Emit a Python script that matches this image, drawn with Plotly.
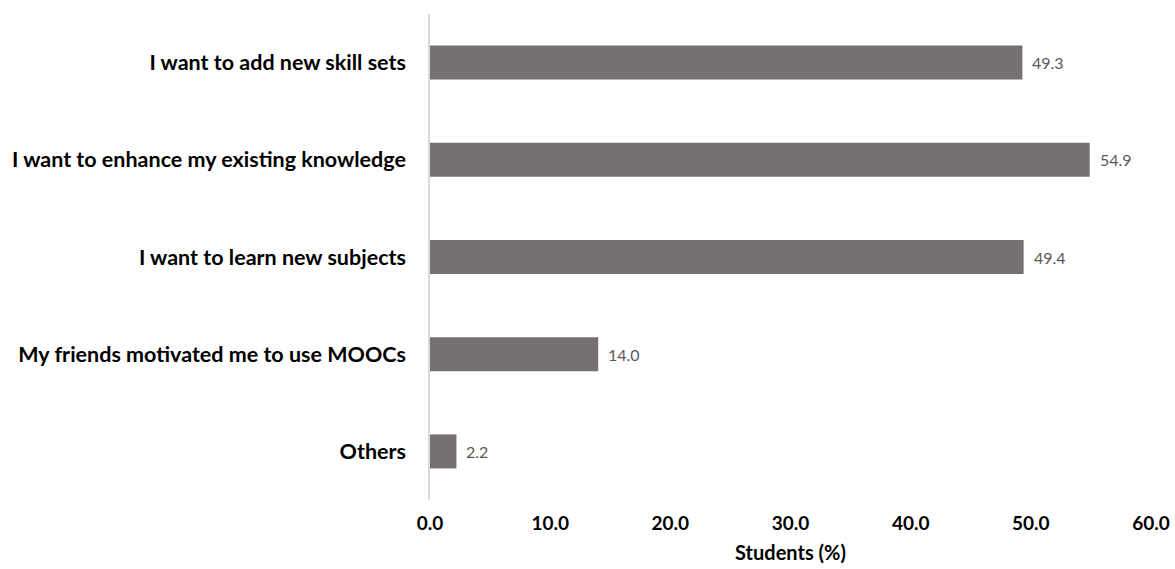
import plotly.graph_objects as go

# Survey responses: reasons for using MOOCs
reasons = [
    "I want to add new skill sets",
    "I want to enhance my existing knowledge",
    "I want to learn new subjects",
    "My friends motivated me to use MOOCs",
    "Others",
]
students_pct = [49.3, 54.9, 49.4, 14.0, 2.2]

x_ticks = [0, 10, 20, 30, 40, 50, 60]
x_tick_labels = ["0.0", "10.0", "20.0", "30.0", "40.0", "50.0", "60.0"]

FONT = "Lato, Open Sans, sans-serif"

fig = go.Figure(
    go.Bar(
        y=reasons,
        x=students_pct,
        orientation="h",
        width=0.35,
        marker=dict(color="#767171", line=dict(width=0)),
        hoverinfo="x+y",
    )
)

# Value labels just past the end of each bar
for cat, val in zip(reasons, students_pct):
    fig.add_annotation(
        x=val,
        y=cat,
        text=f"{val:.1f}",
        showarrow=False,
        xanchor="left",
        xshift=8,
        font=dict(family=FONT, size=16, color="#595959"),
    )

fig.update_layout(
    width=1175,
    height=569,
    margin=dict(l=430, r=24, t=14, b=69),
    plot_bgcolor="white",
    paper_bgcolor="white",
    showlegend=False,
    font=dict(family=FONT, color="#000000"),
)

fig.update_xaxes(
    range=[0, 60],
    tickvals=x_ticks,
    ticktext=x_tick_labels,
    tickfont=dict(size=19, color="#000000", weight="bold"),
    showgrid=False,
    zeroline=False,
    showline=False,
    ticks="",
    ticklabelstandoff=10,
    automargin=False,
    title=dict(text="Students (%)", font=dict(size=20, color="#000000", weight="bold"), standoff=12),
)

fig.update_yaxes(
    categoryorder="array",
    categoryarray=reasons[::-1],
    autorange=False,
    range=[-0.5, 4.5],
    tickfont=dict(size=21.5, color="#000000", weight="bold"),
    showgrid=False,
    zeroline=False,
    showline=True,
    linecolor="#d9d9d9",
    linewidth=1.5,
    ticks="",
    ticklabelstandoff=18,
    automargin=False,
)

fig.write_html("out.html")
